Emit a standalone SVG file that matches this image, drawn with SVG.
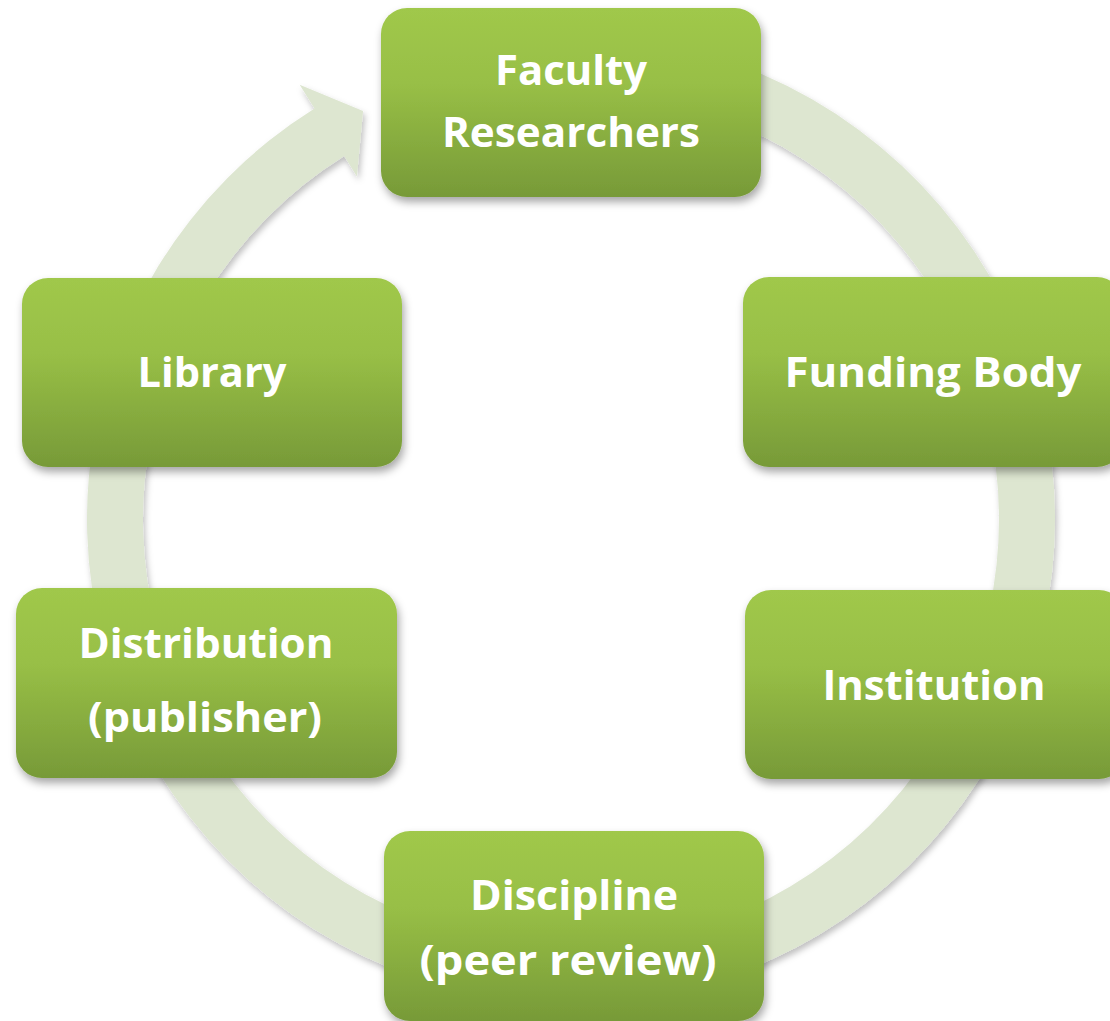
<svg xmlns="http://www.w3.org/2000/svg" width="1110" height="1021" viewBox="0 0 1110 1021">
  <defs>
    <linearGradient id="boxGrad" x1="0" y1="0" x2="0" y2="1">
      <stop offset="0" stop-color="#a0c84b"/>
      <stop offset="0.4" stop-color="#98bf46"/>
      <stop offset="1" stop-color="#779a38"/>
    </linearGradient>
    <filter id="boxShadow" x="-10%" y="-10%" width="120%" height="130%">
      <feDropShadow dx="2" dy="5" stdDeviation="4" flood-color="#000" flood-opacity="0.35"/>
    </filter>
    <filter id="ringShadow" x="-10%" y="-10%" width="120%" height="120%">
      <feDropShadow dx="2" dy="4" stdDeviation="3" flood-color="#000" flood-opacity="0.25"/>
    </filter>
  </defs>
  <style>
    .box { fill: url(#boxGrad); filter: url(#boxShadow); }
    .label { font-family: "Open Sans", "Liberation Sans", sans-serif; font-weight: bold; font-size: 42px; fill: #ffffff; text-anchor: middle; }
    .ring { fill: #dde6d0; filter: url(#ringShadow); }
  </style>
  <rect width="1110" height="1021" fill="#ffffff"/>
  <g id="connectors">
    <path class="ring" d="M655.05,42.35 A484,484 0 1 1 314.52,108.54 L299.68,84.8 L363.07,110.92 L356.91,176.39 L344.19,156.03 A428,428 0 1 0 645.32,97.5 Z"/>
  </g>
  <g id="node-faculty">
    <rect class="box" x="381" y="8" width="380" height="189" rx="26"/>
    <text class="label" x="571" y="85" textLength="152" lengthAdjust="spacingAndGlyphs">Faculty</text>
    <text class="label" x="571" y="147" textLength="258" lengthAdjust="spacingAndGlyphs">Researchers</text>
  </g>
  <g id="node-funding">
    <rect class="box" x="743" y="277" width="380" height="190" rx="26"/>
    <text class="label" x="933" y="387" textLength="297" lengthAdjust="spacingAndGlyphs">Funding Body</text>
  </g>
  <g id="node-institution">
    <rect class="box" x="745" y="590" width="380" height="189" rx="26"/>
    <text class="label" x="934" y="700" textLength="223" lengthAdjust="spacingAndGlyphs">Institution</text>
  </g>
  <g id="node-discipline">
    <rect class="box" x="384" y="831" width="380" height="190" rx="26"/>
    <text class="label" x="574" y="910" textLength="208" lengthAdjust="spacingAndGlyphs">Discipline</text>
    <text class="label" x="568" y="975" textLength="297" lengthAdjust="spacingAndGlyphs">(peer review)</text>
  </g>
  <g id="node-distribution">
    <rect class="box" x="16" y="588" width="381" height="190" rx="26"/>
    <text class="label" x="206" y="658" textLength="255" lengthAdjust="spacingAndGlyphs">Distribution</text>
    <text class="label" x="205" y="732" textLength="234" lengthAdjust="spacingAndGlyphs">(publisher)</text>
  </g>
  <g id="node-library">
    <rect class="box" x="22" y="278" width="380" height="189" rx="26"/>
    <text class="label" x="212" y="387" textLength="149" lengthAdjust="spacingAndGlyphs">Library</text>
  </g>
</svg>
